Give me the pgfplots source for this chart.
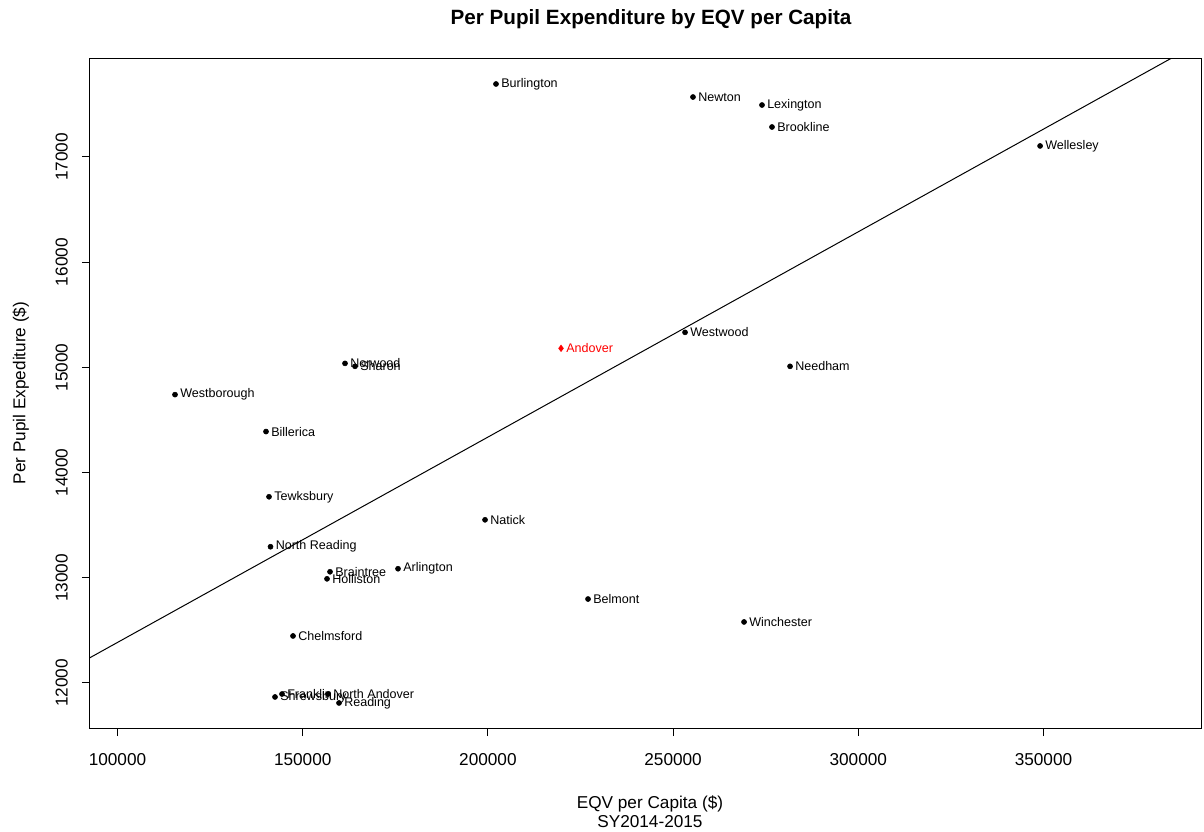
\documentclass[border=0pt]{standalone}
\usepackage{fontspec}
\setmainfont{Liberation Sans}
\usepackage{pgfplots}
\usepackage{pgfplotstable}
\pgfplotsset{compat=1.18}

% town, EQV per capita, per pupil expenditure
\pgfplotstableread[col sep=comma]{
name,x,y
Burlington,202187,17694
Newton,255370,17570
Lexington,274000,17494
Brookline,276700,17285
Wellesley,349075,17105
Westwood,253225,15333
Needham,281575,15010
Norwood,161425,15038
Sharon,164125,15010
Westborough,115525,14741
Billerica,140095,14390
Tewksbury,140905,13770
Natick,199225,13551
North Reading,141310,13295
Braintree,157375,13057
Holliston,156565,12990
Arlington,175735,13086
Belmont,227035,12798
Winchester,269155,12580
Chelmsford,147385,12447
Shrewsbury,142525,11867
Franklin,144415,11895
North Andover,156835,11895
Reading,159805,11810
}\towns

\pgfplotstableread[col sep=comma]{
name,x,y
Andover,219745,15181
}\andover

\begin{document}
\begin{tikzpicture}
\useasboundingbox (-67.5pt,-78pt) rectangle (835.5pt,546pt);
\begin{axis}[
    scale only axis,
    width=833.25pt, height=502.5pt,
    xmin=92576, xmax=392522,
    ymin=11572, ymax=17941,
    axis line style={line width=0.75pt},
    scaled ticks=false,
    xtick={100000,150000,200000,250000,300000,350000},
    xticklabels={100000,150000,200000,250000,300000,350000},
    ytick={12000,13000,14000,15000,16000,17000},
    yticklabels={12000,13000,14000,15000,16000,17000},
    xtick pos=lower, ytick pos=left,
    tick align=outside,
    major tick length=6pt,
    tick style={black, line width=0.75pt},
    ticklabel style={font=\fontsize{12.9}{15}\selectfont, inner sep=0pt},
    xticklabel style={anchor=north, yshift=-12.75pt},
    yticklabel style={rotate=90, anchor=south, yshift=10.5pt},
    clip mode=individual,
    nodes near coords style={anchor=west, inner sep=0pt, xshift=3.75pt,
        font=\fontsize{9.4}{11}\selectfont},
]
\addplot[only marks, mark=*, mark size=1.9pt, black,
    nodes near coords={\pgfplotspointmeta}, point meta=explicit symbolic]
    table[x=x, y=y, meta=name] {\towns};
\addplot[only marks, mark=diamond*, mark size=2.4pt, red,
    nodes near coords={\pgfplotspointmeta}, point meta=explicit symbolic,
    nodes near coords style={text=red}]
    table[x=x, y=y, meta=name] {\andover};
% fitted line
\addplot[black, line width=0.75pt] coordinates {(80000,11995) (400000,18241)};

\node[font=\bfseries\fontsize{15.5}{18}\selectfont, anchor=base, yshift=24.75pt]
    at (rel axis cs:0.505,1) {Per Pupil Expenditure by EQV per Capita};
\node[font=\fontsize{12.9}{15}\selectfont, anchor=base, yshift=-60pt]
    at (rel axis cs:0.504,0) {EQV per Capita (\$)};
\node[font=\fontsize{12.9}{15}\selectfont, anchor=base, yshift=-74.25pt]
    at (rel axis cs:0.504,0) {SY2014-2015};
\node[font=\fontsize{12.9}{15}\selectfont, rotate=90, anchor=base, yshift=48.4pt]
    at (rel axis cs:0,0.5) {Per Pupil Expediture (\$)};
\end{axis}
\end{tikzpicture}
\end{document}
